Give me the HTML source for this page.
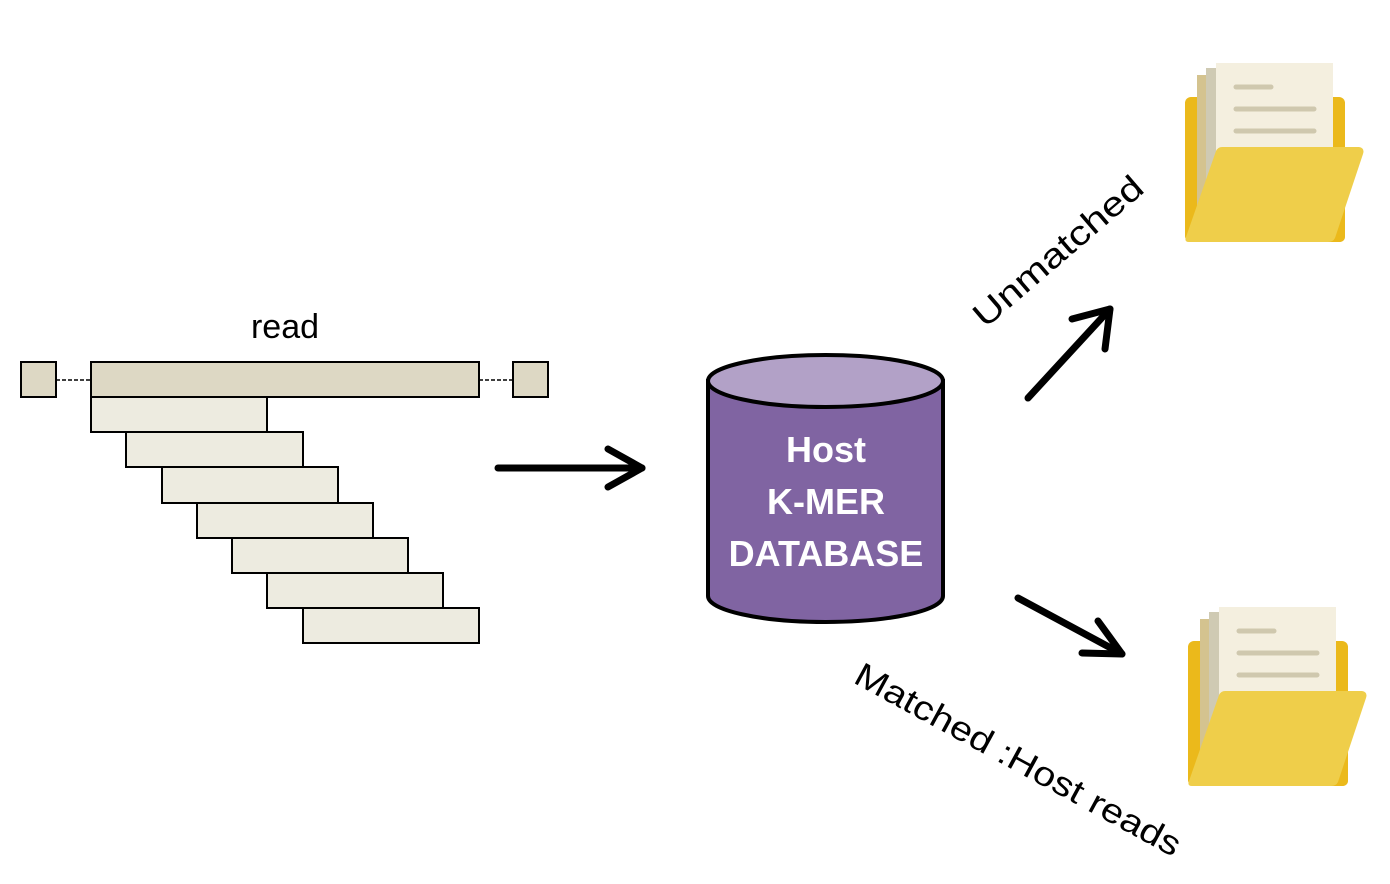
<!DOCTYPE html>
<html><head><meta charset="utf-8"><style>html,body{margin:0;padding:0;background:#fff}</style></head>
<body>
<svg width="1390" height="879" viewBox="0 0 1390 879" xmlns="http://www.w3.org/2000/svg" font-family="Liberation Sans, sans-serif">
<defs>
<g id="folder">
  <rect x="0" y="35" width="160" height="145" rx="6" fill="#EBB91B"/>
  <rect x="138" y="56" width="22" height="124" rx="5" fill="#EBB91B"/>
  <rect x="12" y="13" width="60" height="167" fill="#D4C38F"/>
  <rect x="21" y="6" width="60" height="174" fill="#CFCAB3"/>
  <rect x="31" y="1" width="117" height="150" fill="#F4EFDF"/>
  <line x1="51" y1="25" x2="86" y2="25" stroke="#CFC8AE" stroke-width="5" stroke-linecap="round"/>
  <line x1="51" y1="47" x2="129" y2="47" stroke="#CFC8AE" stroke-width="5" stroke-linecap="round"/>
  <line x1="51" y1="69" x2="129" y2="69" stroke="#CFC8AE" stroke-width="5" stroke-linecap="round"/>
  <path d="M37,85 L174,85 Q180,86 178,92 L150,176 Q148,180 143,180 L4,180 Q-1,180 1,175 L31,89 Q33,85 37,85 Z" fill="#EFCE4A"/>
</g>
</defs>

<text x="285" y="338" font-size="34" text-anchor="middle" fill="#000">read</text>
<line x1="56" y1="380" x2="91" y2="380" stroke="#000" stroke-width="1.5" stroke-dasharray="4,2"/>
<line x1="479" y1="380" x2="513" y2="380" stroke="#000" stroke-width="1.5" stroke-dasharray="4,2"/>
<g stroke="#000" stroke-width="2">
<rect x="21" y="362" width="35" height="35" fill="#DDD8C4"/>
<rect x="513" y="362" width="35" height="35" fill="#DDD8C4"/>
<rect x="91" y="362" width="388" height="35" fill="#DDD8C4"/>
<g fill="#EDEBE0">
<rect x="91" y="397" width="176" height="35"/>
<rect x="126" y="432" width="177" height="35"/>
<rect x="162" y="467" width="176" height="36"/>
<rect x="197" y="503" width="176" height="35"/>
<rect x="232" y="538" width="176" height="35"/>
<rect x="267" y="573" width="176" height="35"/>
<rect x="303" y="608" width="176" height="35"/>
</g>
</g>

<g stroke="#000" stroke-width="7" fill="none" stroke-linecap="round" stroke-linejoin="round">
<line x1="498" y1="468" x2="642" y2="468"/>
<polyline points="608,449 642,468 608,487"/>
<line x1="1028" y1="398" x2="1110" y2="309"/>
<polyline points="1072,319 1110,309 1105,349"/>
<line x1="1018" y1="598" x2="1122" y2="654"/>
<polyline points="1098,621 1122,654 1082,653"/>
</g>

<path d="M708,381 L708,596 A117.5,26 0 0 0 943,596 L943,381 Z" fill="#8064A2" stroke="#000" stroke-width="4"/>
<ellipse cx="825.5" cy="381" rx="117.5" ry="26" fill="#B2A1C7" stroke="#000" stroke-width="4"/>
<g fill="#fff" font-weight="bold" font-size="36" text-anchor="middle">
<text x="826" y="462">Host</text>
<text x="826" y="514">K-MER</text>
<text x="826" y="566">DATABASE</text>
</g>

<text transform="translate(985,329) rotate(-40.6)" font-size="34" textLength="212" lengthAdjust="spacingAndGlyphs">Unmatched</text>
<text transform="translate(852,682) rotate(28.6)" font-size="34" textLength="366" lengthAdjust="spacingAndGlyphs">Matched :Host reads</text>

<use href="#folder" x="1185" y="62"/>
<use href="#folder" x="1188" y="606"/>
</svg>
</body></html>
